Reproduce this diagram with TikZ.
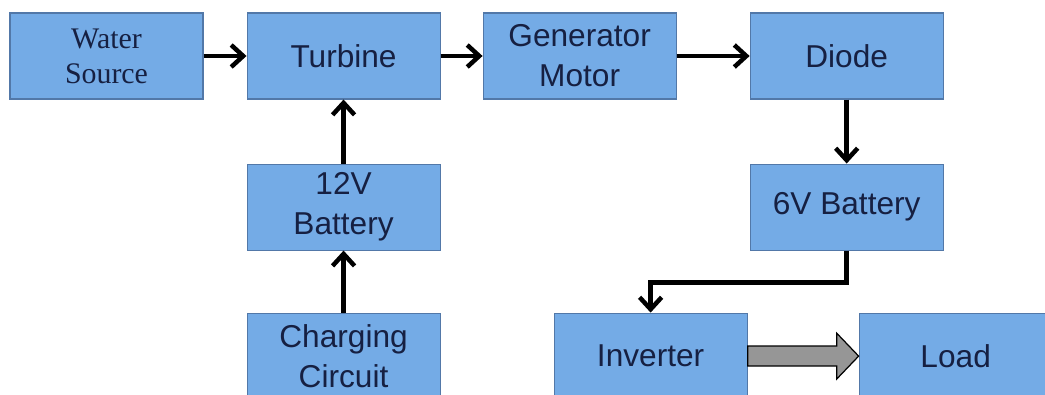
\documentclass[tikz,border=0pt]{standalone}
\usepackage{fontspec}
\setmainfont{Liberation Sans}
\newfontfamily\timesface{Liberation Serif}
\usetikzlibrary{arrows.meta, positioning}
\definecolor{boxblue}{RGB}{116,171,230}
\definecolor{boxedge}{RGB}{82,120,168}
\definecolor{textnavy}{RGB}{22,32,66}
\definecolor{shaftgray}{RGB}{150,150,150}

\begin{document}
\begin{tikzpicture}[
    node distance=1.28cm and 0.86cm,
    block/.style={draw=boxedge, line width=0.6pt, fill=boxblue, minimum width=3.86cm,
                  minimum height=1.72cm, align=center, text=textnavy,
                  font=\fontsize{18}{22.7}\selectfont},
    arr/.style={-{Straight Barb[length=0.24cm, width=0.44cm, line width=0.09cm]}, line width=0.09cm},
    bigarr/.style={draw=black, line width=0.7pt, fill=shaftgray},
  ]
    \clip (0,0) rectangle (20.9,-7.88);
    \node[block, font=\timesface\fontsize{17}{19.8}\selectfont] (water) at (2.13,-1.12) {Water\\Source};
    \node[block, right=of water] (turbine) {Turbine};
    \node[block, right=0.84cm of turbine] (generator) {Generator\\Motor};
    \node[block, right=1.46cm of generator] (diode) {Diode};
    \node[block, below=of diode] (batsix) {6V Battery};
    \node[block, below=of turbine] (battwelve) {12V\\Battery};
    \node[block, below=1.24cm of battwelve] (charging) {Charging\\Circuit};
    \node[block, right=2.26cm of charging] (inverter) {Inverter};
    \node[block, right=2.22cm of inverter] (load) {Load};

    \draw[arr] (water) -- (turbine);
    \draw[arr] (turbine) -- (generator);
    \draw[arr] (generator) -- (diode);
    \draw[arr] (diode) -- (batsix);
    \draw[arr] (battwelve) -- (turbine);
    \draw[arr] (charging) -- (battwelve);
    \draw[arr] (batsix.south) -- ++(0,-0.64) -| (inverter.north);
    % block arrow to the load
    \draw[bigarr] ([yshift=0.2cm]inverter.east) -- ([xshift=-0.44cm, yshift=0.2cm]load.west)
      -- ([xshift=-0.44cm, yshift=0.46cm]load.west) -- (load.west)
      -- ([xshift=-0.44cm, yshift=-0.46cm]load.west) -- ([xshift=-0.44cm, yshift=-0.2cm]load.west)
      -- ([yshift=-0.2cm]inverter.east) -- cycle;
  \end{tikzpicture}
\end{document}
